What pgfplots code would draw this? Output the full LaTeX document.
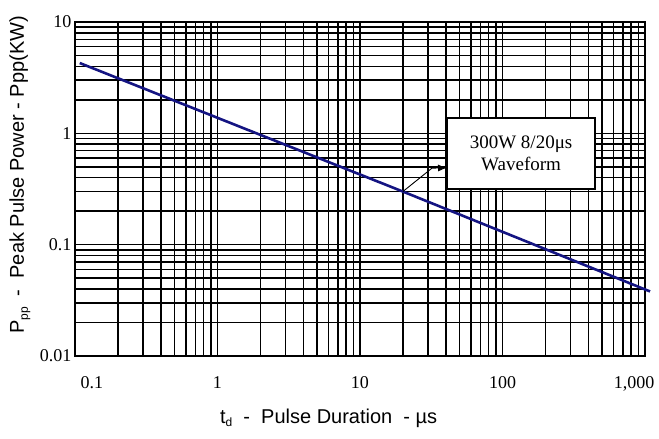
\documentclass[border=0pt]{standalone}
\usepackage{fontspec}
\setmainfont{Liberation Serif}
\newfontfamily\arial{Liberation Sans}
\usepackage{pgfplots}
\pgfplotsset{compat=1.18}
\usetikzlibrary{arrows.meta}
\definecolor{navy}{RGB}{20,20,130}
\begin{document}
\begin{tikzpicture}
\begin{axis}[
  scale only axis, width=570pt, height=334pt,
  xmode=log, ymode=log,
  xmin=0.1, xmax=1000, ymin=0.01, ymax=10,
  xtick={0.1,1,10,100,1000},
  minor xtick={0.2,0.3,0.4,0.5,0.6,0.7,0.8,0.9,2,3,4,5,6,7,8,9,20,30,40,50,60,70,80,90,200,300,400,500,600,700,800,900},
  ytick={0.01,0.1,1,10},
  minor ytick={0.02,0.03,0.04,0.05,0.06,0.07,0.08,0.09,0.2,0.3,0.4,0.5,0.6,0.7,0.8,0.9,2,3,4,5,6,7,8,9},
  xticklabels={{\hspace*{34pt}0.1},1,10,100,{1,000\hspace*{22pt}}},
  yticklabels={0.01,0.1,1,10},
  grid=both,
  major grid style={black, line width=1.5pt},
  minor grid style={black, line width=1.5pt},
  axis line style={black, line width=1.5pt},
  major tick length=0pt, minor tick length=0pt,
  /pgf/number format/assume math mode=true,
  ticklabel style={font=\fontsize{18}{18}\selectfont},
  xticklabel style={yshift=-17pt},
  xlabel={\arial t\raisebox{-3pt}{\fontsize{12}{12}\selectfont d}\ \ -\ \ Pulse Duration\ \ -\ µs},
  ylabel={\arial P\raisebox{-4pt}{\fontsize{12}{12}\selectfont pp}\ \ -\ \ Peak Pulse Power - Ppp(KW)},
  xlabel style={font=\fontsize{20}{20}\selectfont, at={([yshift=-67pt]axis description cs:0.445,0)}, anchor=base},
  ylabel style={font=\fontsize{20}{20}\selectfont, at={([xshift=-51pt]axis description cs:0,0.542)}, anchor=base},
  clip=false,
]
\addplot[navy, line width=2.6pt] coordinates {(0.108,4.28) (20,0.3) (1085,0.038)};
\draw[line width=2.2pt, fill=white] (axis cs:40.8,0.316) rectangle (axis cs:446,1.37);
\node[font=\fontsize{19}{22}\selectfont, align=center] at (axis cs:135,0.66) {300W 8/20μs\\Waveform};
\draw[-{Latex[length=9pt,width=7pt]}, line width=0.9pt] (axis cs:20,0.3) -- (axis cs:32,0.487) -- (axis cs:40.8,0.49);
\end{axis}
\pgfresetboundingbox
\path ([shift={(-75pt,-82pt)}]current axis.south west) rectangle ([shift={(14pt,22pt)}]current axis.north east);
\end{tikzpicture}
\end{document}
